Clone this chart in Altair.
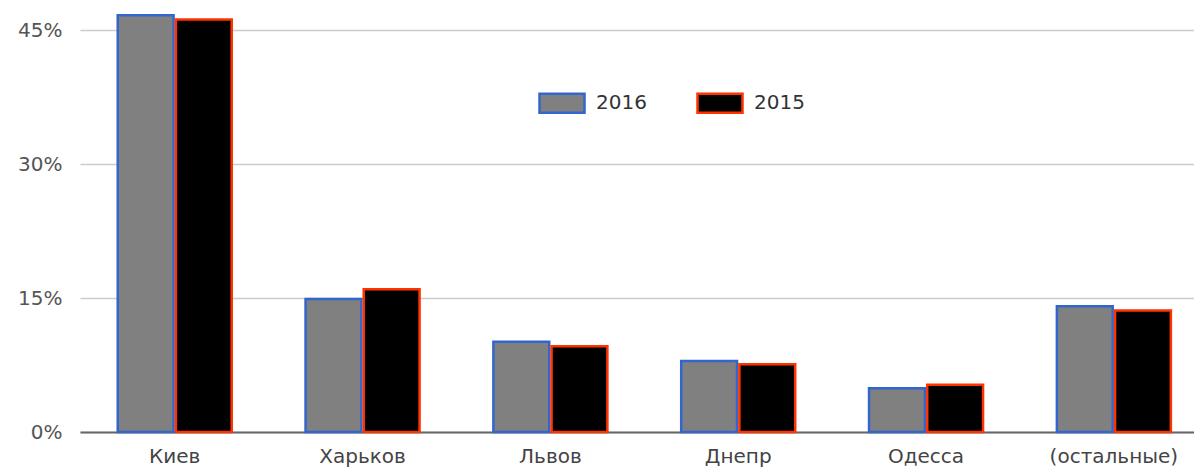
import altair as alt
import pandas as pd

cities = ["Киев", "Харьков", "Львов", "Днепр", "Одесса", "(остальные)"]
share_2016 = [0.467, 0.149, 0.101, 0.0795, 0.049, 0.141]
share_2015 = [0.462, 0.160, 0.096, 0.076, 0.053, 0.136]
years = ["2016", "2015"]
y_ticks = [0, 0.15, 0.30, 0.45]

rows = []
for c, a, b in zip(cities, share_2016, share_2015):
    rows.append({"city": c, "year": "2016", "share": a})
    rows.append({"city": c, "year": "2015", "share": b})
df = pd.DataFrame(rows)

font = "DejaVu Sans"
fsize = 20

legend_kw = dict(title=None, orient="none", legendX=458, legendY=71,
                 direction="horizontal",
                 symbolType="M-1,-0.42L1,-0.42L1,0.42L-1,0.42Z",
                 symbolSize=2025, symbolStrokeWidth=2.5,
                 labelFont=font, labelFontSize=fsize, labelColor="#333333",
                 labelOffset=10, columnPadding=45)

bars = alt.Chart(df).mark_bar(strokeWidth=2.5, strokeJoin="miter").encode(
    x=alt.X("city:N", sort=cities, title=None,
            scale=alt.Scale(paddingInner=0.393, paddingOuter=0.162, align=0.62),
            axis=alt.Axis(labelAngle=0, ticks=False, domain=True, domainColor="#666666",
                          domainWidth=2, labelFont=font, labelFontSize=fsize,
                          labelColor="#444444", labelPadding=14, grid=False)),
    xOffset=alt.XOffset("year:N", scale=alt.Scale(domain=years, paddingInner=0.04)),
    y=alt.Y("share:Q", title=None,
            scale=alt.Scale(domain=[0, 0.475], nice=False),
            axis=alt.Axis(values=y_ticks, format=".0%", ticks=False, domain=False,
                          gridColor="#cccccc", gridWidth=1.5, labelFont=font,
                          labelFontSize=fsize, labelColor="#555555", labelPadding=18)),
    color=alt.Color("year:N", scale=alt.Scale(domain=years, range=["#808080", "#000000"]),
                    legend=alt.Legend(**legend_kw)),
    stroke=alt.Stroke("year:N", scale=alt.Scale(domain=years, range=["#3366cc", "#ff3300"]),
                      legend=alt.Legend(**legend_kw)),
)

chart = bars.properties(
    width=1114, height=424,
    autosize=alt.AutoSizeParams(type="none"),
    padding={"left": 72, "top": 0, "right": 0, "bottom": 40},
    background="white",
).configure_view(stroke=None)

chart.save("out.html", embed_options={"renderer": "svg", "actions": False})
